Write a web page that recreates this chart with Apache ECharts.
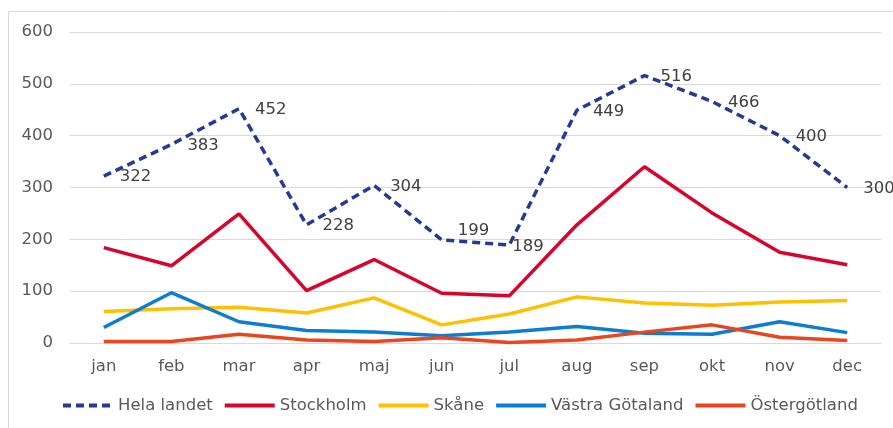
<!DOCTYPE html>
<html>
<head>
<meta charset="utf-8">
<script src="https://cdn.jsdelivr.net/npm/echarts@6/dist/echarts.min.js"></script>
<style>html,body{margin:0;padding:0;background:#fff;}#c{width:893px;height:428px;}</style>
</head>
<body>
<div id="c"></div>
<script>
const months = ['jan','feb','mar','apr','maj','jun','jul','aug','sep','okt','nov','dec'];
const yTicks = [0, 100, 200, 300, 400, 500, 600];
const helaLandet = [322, 383, 452, 228, 304, 199, 189, 449, 516, 466, 400, 300];
const stockholm = [184, 149, 249, 101, 161, 96, 91, 228, 340, 251, 175, 151];
const skane = [61, 66, 69, 58, 87, 35, 56, 89, 77, 73, 79, 82];
const vastraGotaland = [30, 97, 41, 24, 21, 14, 21, 32, 19, 17, 41, 20];
const ostergotland = [3, 3, 17, 6, 3, 10, 1, 6, 21, 35, 11, 5];

const FONT = 'DejaVu Sans';
const chart = echarts.init(document.getElementById('c'));
function lineSeries(name, data, color, dashed) {
  return {
    name: name, type: 'line', data: data, symbol: 'circle', symbolSize: 2, showSymbol: true, smooth: false,
    lineStyle: { color: color, width: 3.5, type: dashed ? [8, 5] : 'solid', cap: 'butt' },
    itemStyle: { color: 'rgba(0,0,0,0)', borderWidth: 0 },
    emphasis: { disabled: true },
    z: dashed ? 10 : 2
  };
}
const labelOffsets = { 5: [0, -9], 6: [-13, 2] };
const hela = lineSeries('Hela landet', helaLandet.map((v, i) => labelOffsets[i] ? { value: v, label: { offset: labelOffsets[i] } } : v), '#243A94', true);
hela.label = { show: true, position: 'right', distance: 15, offset: [0, 1], color: '#404040', fontSize: 16.5, fontFamily: FONT };
chart.setOption({
  animation: false,
  textStyle: { fontFamily: FONT },
  graphic: [{ type: 'rect', shape: { x: 8.5, y: 11.5, width: 900, height: 430 }, style: { fill: 'none', stroke: '#d9d9d9', lineWidth: 1 }, silent: true }],
  grid: { left: 70, right: 12, top: 32, bottom: 85, containLabel: false },
  xAxis: {
    type: 'category', data: months, boundaryGap: true,
    axisLine: { show: true, lineStyle: { color: '#d9d9d9', width: 1 } },
    axisTick: { show: false },
    axisLabel: { color: '#595959', fontSize: 16.5, fontFamily: FONT, margin: 15 }
  },
  yAxis: {
    type: 'value', min: yTicks[0], max: yTicks[yTicks.length - 1], interval: 100,
    axisLine: { show: false }, axisTick: { show: false },
    splitLine: { lineStyle: { color: '#d9d9d9', width: 1 } },
    axisLabel: { color: '#595959', fontSize: 16.5, fontFamily: FONT, margin: 17 }
  },
  legend: {
    bottom: 9, left: 56, itemWidth: 50, itemHeight: 14, itemGap: 10,
    lineStyle: { width: 4 },
    textStyle: { color: '#595959', fontSize: 16.5, fontFamily: FONT, padding: [0, 0, 0, 0] },
    data: ['Hela landet', 'Stockholm', 'Skåne', 'Västra Götaland', 'Östergötland']
  },
  series: [
    hela,
    lineSeries('Stockholm', stockholm, '#D8042C', false),
    lineSeries('Skåne', skane, '#FFC000', false),
    lineSeries('Västra Götaland', vastraGotaland, '#0C7DD2', false),
    lineSeries('Östergötland', ostergotland, '#E8461F', false)
  ]
});
</script>
</body>
</html>
